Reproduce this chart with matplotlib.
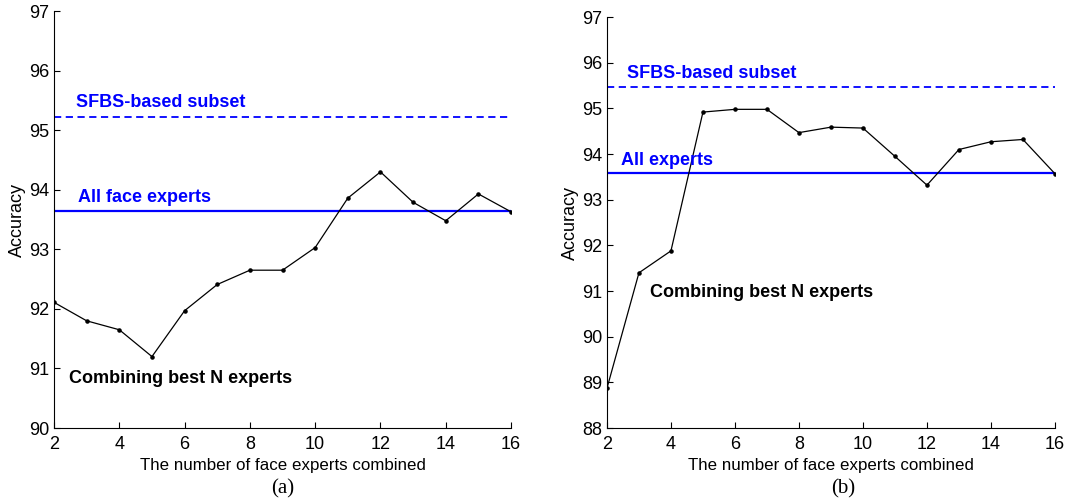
import numpy as np
import matplotlib
matplotlib.use("Agg")
import matplotlib.pyplot as plt

plt.rcParams['font.family'] = 'Liberation Sans'

# Number of face experts combined
n_experts = [2, 3, 4, 5, 6, 7, 8, 9, 10, 11, 12, 13, 14, 15, 16]

# (a) accuracy when combining the best N experts
acc_a = [92.11, 91.80, 91.65, 91.20, 91.97, 92.41, 92.65, 92.65,
         93.03, 93.86, 94.30, 93.79, 93.48, 93.93, 93.63]
sfbs_a = 95.23
all_a = 93.64

# (b) accuracy when combining the best N experts
acc_b = [88.87, 91.40, 91.88, 94.92, 94.98, 94.98, 94.47, 94.59,
         94.57, 93.95, 93.32, 94.10, 94.27, 94.32, 93.57]
sfbs_b = 95.47
all_b = 93.58

blue = '#0000FF'

fig = plt.figure(figsize=(10.85, 5.03), dpi=100)
ax1 = fig.add_axes([0.0498, 0.149, 0.4212, 0.829])
ax2 = fig.add_axes([0.5594, 0.149, 0.4129, 0.817])


def draw_panel(ax, acc, sfbs, allv, ylim, all_label, texts):
    ax.plot(n_experts, acc, color='black', lw=0.9, marker='.', ms=4.5, zorder=3)
    ax.axhline(sfbs, color=blue, lw=1.3, ls=(0, (4, 2.5)))
    ax.axhline(allv, color=blue, lw=1.6)
    ax.set_xlim(2, 16)
    ax.set_ylim(*ylim)
    ax.set_xticks(range(2, 17, 2))
    ax.set_yticks(range(ylim[0], ylim[1] + 1))
    for s in ['top', 'right']:
        ax.spines[s].set_visible(False)
    ax.tick_params(direction='in', labelsize=13, length=4, width=0.8)
    ax.tick_params(axis='x', pad=6)
    ax.set_xlabel('The number of face experts combined', fontsize=12.2, labelpad=3)
    ax.set_ylabel('Accuracy', fontsize=13, labelpad=2)
    (xs, ys), (xa, ya), (xc, yc) = texts
    ax.text(xs, ys, 'SFBS-based subset', color=blue, fontsize=13,
            fontweight='bold', va='baseline')
    ax.text(xa, ya, all_label, color=blue, fontsize=13,
            fontweight='bold', va='baseline')
    ax.text(xc, yc, 'Combining best N experts', color='black', fontsize=13,
            fontweight='bold', va='baseline')


draw_panel(ax1, acc_a, sfbs_a, all_a, (90, 97), 'All face experts',
           [(2.67, 95.39), (2.74, 93.80), (2.46, 90.75)])
draw_panel(ax2, acc_b, sfbs_b, all_b, (88, 97), 'All experts',
           [(2.63, 95.67), (2.43, 93.76), (3.34, 90.86)])

fig.text(0.261, 0.018, '(a)', family='Liberation Serif', fontsize=15, ha='center')
fig.text(0.777, 0.018, '(b)', family='Liberation Serif', fontsize=15, ha='center')

fig.savefig('out.png', dpi=100)
